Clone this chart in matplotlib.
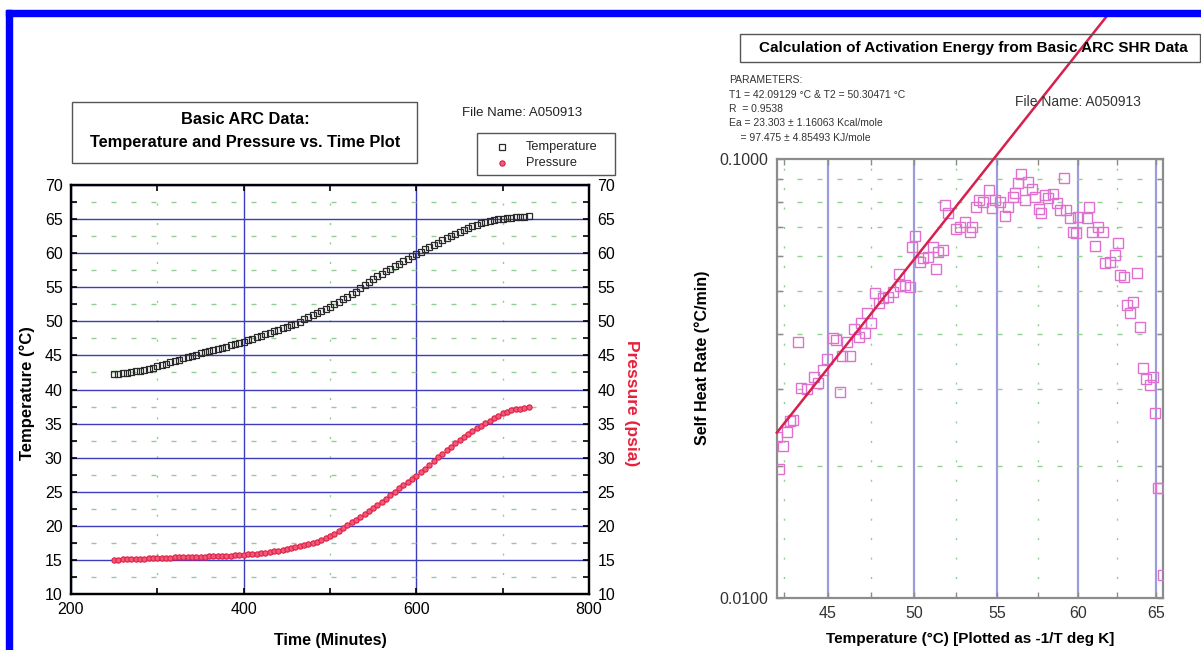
import numpy as np
import matplotlib
matplotlib.use("Agg")
import matplotlib.pyplot as plt
from matplotlib.patches import Rectangle
from matplotlib.lines import Line2D
from matplotlib.ticker import MultipleLocator, FixedLocator, FixedFormatter, LogLocator, NullFormatter

plt.rcParams['font.family'] = ['Liberation Sans', 'DejaVu Sans']

# ---------------- data: Basic ARC (left) ----------------
time_min = [250, 255, 260, 265, 270, 275, 280, 285, 290, 295,
            300, 305, 310, 315, 320, 325, 330, 335, 340, 345,
            350, 355, 360, 365, 370, 375, 380, 385, 390, 395,
            400, 405, 410, 415, 420, 425, 430, 435, 440, 445,
            450, 455, 460, 465, 470, 475, 480, 485, 490, 495,
            500, 505, 510, 515, 520, 525, 530, 535, 540, 545,
            550, 555, 560, 565, 570, 575, 580, 585, 590, 595,
            600, 605, 610, 615, 620, 625, 630, 635, 640, 645,
            650, 655, 660, 665, 670, 675, 680, 685, 690, 695,
            700, 705, 710, 715, 720, 725, 730]
temperature_c = [42.25, 42.32, 42.40, 42.47, 42.55, 42.65, 42.75, 42.90, 43.05, 43.22,
                 43.40, 43.60, 43.80, 44.00, 44.20, 44.38, 44.57, 44.76, 44.95, 45.12,
                 45.30, 45.47, 45.65, 45.81, 45.97, 46.13, 46.30, 46.49, 46.68, 46.84,
                 47.00, 47.22, 47.45, 47.67, 47.90, 48.12, 48.35, 48.55, 48.75, 48.97,
                 49.20, 49.42, 49.65, 49.97, 50.30, 50.60, 50.90, 51.20, 51.50, 51.82,
                 52.15, 52.50, 52.85, 53.22, 53.60, 53.97, 54.35, 54.82, 55.30, 55.75,
                 56.20, 56.60, 57.00, 57.38, 57.75, 58.10, 58.45, 58.82, 59.20, 59.55,
                 59.90, 60.22, 60.55, 60.88, 61.20, 61.55, 61.90, 62.22, 62.55, 62.85,
                 63.15, 63.42, 63.70, 63.95, 64.20, 64.38, 64.55, 64.70, 64.85, 64.95,
                 65.05, 65.12, 65.20, 65.25, 65.30, 65.35, 65.40]
pressure_psia = [15.05, 15.06, 15.08, 15.10, 15.12, 15.15, 15.17, 15.20, 15.22, 15.25,
                 15.27, 15.29, 15.31, 15.34, 15.36, 15.38, 15.40, 15.42, 15.44, 15.46,
                 15.48, 15.50, 15.52, 15.54, 15.56, 15.58, 15.60, 15.63, 15.66, 15.70,
                 15.75, 15.80, 15.87, 15.93, 16.00, 16.08, 16.17, 16.26, 16.36, 16.47,
                 16.58, 16.71, 16.85, 17.00, 17.15, 17.32, 17.50, 17.70, 17.95, 18.20,
                 18.45, 18.80, 19.20, 19.65, 20.10, 20.50, 20.90, 21.30, 21.70, 22.15,
                 22.60, 23.05, 23.50, 24.00, 24.50, 25.00, 25.50, 25.95, 26.40, 26.85,
                 27.30, 27.85, 28.40, 28.95, 29.50, 30.05, 30.60, 31.10, 31.60, 32.10,
                 32.60, 33.05, 33.50, 33.90, 34.30, 34.70, 35.10, 35.45, 35.80, 36.15,
                 36.50, 36.75, 36.95, 37.10, 37.20, 37.30, 37.40]

# ---------------- data: self heat rate (right) ----------------
shr_temp_c = [42.08, 42.65, 42.46, 42.23, 43.03, 42.84, 43.28, 43.46, 43.79, 44.20,
              44.45, 44.73, 44.96, 45.27, 45.46, 45.70, 45.80, 46.28, 46.09, 46.47,
              46.76, 46.90, 47.15, 47.25, 47.50, 47.69, 47.98, 48.21, 48.50, 48.79,
              49.14, 49.18, 49.47, 49.76, 49.87, 50.06, 50.36, 50.56, 50.86, 51.16,
              51.32, 51.46, 51.73, 51.87, 52.06, 52.53, 52.77, 53.07, 53.33, 53.47,
              53.73, 53.93, 54.17, 54.54, 54.68, 54.88, 55.19, 55.49, 55.70, 55.97,
              56.11, 56.31, 56.48, 56.73, 56.89, 57.14, 57.34, 57.61, 57.70, 57.96,
              58.17, 58.47, 58.73, 58.89, 59.14, 59.26, 59.51, 59.71, 59.92, 60.02,
              60.56, 60.72, 60.88, 61.09, 61.30, 61.58, 61.73, 62.05, 62.37, 62.58,
              62.69, 62.95, 63.12, 63.33, 63.54, 63.76, 63.97, 64.15, 64.36, 64.61,
              64.79, 64.94, 65.15, 65.32, 65.43]
shr_rate = [0.0233, 0.0239, 0.0222, 0.0197, 0.0255, 0.0253, 0.0382, 0.0301, 0.0299, 0.0319,
            0.0309, 0.0331, 0.0350, 0.0391, 0.0388, 0.0294, 0.0355, 0.0355, 0.0382, 0.0409,
            0.0394, 0.0422, 0.0402, 0.0447, 0.0424, 0.0494, 0.0469, 0.0482, 0.0486, 0.0499,
            0.0547, 0.0514, 0.0516, 0.0512, 0.0631, 0.0668, 0.0583, 0.0594, 0.0597, 0.0629,
            0.0561, 0.0615, 0.0621, 0.0786, 0.0752, 0.0692, 0.0701, 0.0720, 0.0683, 0.0701,
            0.0776, 0.0806, 0.0799, 0.0850, 0.0772, 0.0806, 0.0799, 0.0742, 0.0779, 0.0821,
            0.0835, 0.0881, 0.0924, 0.0806, 0.0885, 0.0853, 0.0821, 0.0768, 0.0755, 0.0828,
            0.0814, 0.0833, 0.0793, 0.0765, 0.0904, 0.0765, 0.0733, 0.0683, 0.0677, 0.0739,
            0.0733, 0.0776, 0.0683, 0.0634, 0.0701, 0.0683, 0.0579, 0.0583, 0.0604, 0.0645,
            0.0544, 0.0538, 0.0465, 0.0445, 0.0473, 0.0551, 0.0414, 0.0335, 0.0315, 0.0306,
            0.0319, 0.0264, 0.0178, 0.0178, 0.0113]

# Arrhenius fit (T1, T2 from the parameter box) and fitted rates at those temperatures
fit_temp_c = [42.09129, 50.30471]
fit_rate = [0.0238, 0.0610]

param_lines = ["PARAMETERS:",
               "T1 = 42.09129 \u00b0C & T2 = 50.30471 \u00b0C",
               "R  = 0.9538",
               "Ea = 23.303 \u00b1 1.16063 Kcal/mole",
               "    = 97.475 \u00b1 4.85493 KJ/mole"]

# ---------------- figure ----------------
W, H = 1201, 650
fig = plt.figure(figsize=(W / 100, H / 100), dpi=100)
fig.patch.set_facecolor('white')


def fx(x):
    return x / W


def fy(y):
    return 1 - y / H


GREEN = '#8fcf8f'
DASH = (0, (3.6, 10.8))
DOT = (0, (1.5, 12.5))

# ---------- left panel ----------
ax1 = fig.add_axes([fx(71), fy(594), (589 - 71) / W, (594 - 185) / H])
ax1.set_xlim(200, 800)
ax1.set_ylim(10, 70)
ax1.xaxis.set_major_locator(MultipleLocator(200))
ax1.xaxis.set_minor_locator(MultipleLocator(100))
ax1.yaxis.set_major_locator(MultipleLocator(5))
ax1.yaxis.set_minor_locator(MultipleLocator(2.5))
ax1.grid(which='major', color='#3c3cbc', lw=1.0)
ax1.grid(which='minor', axis='y', color=GREEN, lw=1.0, linestyle=DASH)
ax1.grid(which='minor', axis='x', color=GREEN, lw=1.0, linestyle=DOT)
ax1.set_axisbelow(True)
for s in ax1.spines.values():
    s.set_linewidth(1.6)
    s.set_color('black')
ax1.tick_params(which='both', direction='in', top=True, length=4, width=1.2,
                labelsize=11.5, pad=6)

ax1.plot(time_min, temperature_c, ls='none', marker='s', ms=4.0, mfc='none',
         mec='#2a2a2a', mew=0.9, zorder=4)

ax2 = ax1.twinx()
ax2.set_ylim(10, 70)
ax2.yaxis.set_major_locator(MultipleLocator(5))
ax2.yaxis.set_minor_locator(MultipleLocator(2.5))
ax2.tick_params(which='both', direction='in', length=4, width=1.2,
                labelsize=11.5, pad=6)
for s in ax2.spines.values():
    s.set_linewidth(1.6)
ax2.plot(time_min, pressure_psia, ls='none', marker='o', ms=3.8, mfc='#f05a78',
         mec='#e01e46', mew=0.8, zorder=4)

ax1.set_xlabel('Time (Minutes)', fontweight='bold', fontsize=11.5, va='center')
ax1.xaxis.set_label_coords(0.5, (594 - 640) / 409)
ax1.set_ylabel('Temperature (\u00b0C)', fontweight='bold', fontsize=12, va='center')
ax1.yaxis.set_label_coords((27 - 71) / 518, (594 - 393) / 409)
ax2.set_ylabel('Pressure (psia)', fontweight='bold', fontsize=12.5, color='#e8203c',
               rotation=270, va='center')
ax2.yaxis.set_label_coords((632 - 71) / 518, (594 - 403) / 409)

# left title box
fig.add_artist(Rectangle((fx(72), fy(163)), (417 - 72) / W, (163 - 102) / H,
                         transform=fig.transFigure, fill=False, ec='#555555', lw=1.0))
fig.text(fx(245), fy(120), 'Basic ARC Data:', ha='center', va='center',
         fontsize=11.8, fontweight='bold')
fig.text(fx(245), fy(143), 'Temperature and Pressure vs. Time Plot', ha='center',
         va='center', fontsize=11.8, fontweight='bold')
fig.text(fx(462), fy(113), 'File Name: A050913', ha='left', va='center',
         fontsize=9.5, color='#222222')

# left legend
fig.add_artist(Rectangle((fx(477), fy(175)), (615 - 477) / W, (175 - 133) / H,
                         transform=fig.transFigure, fill=False, ec='#555555', lw=1.0))
fig.add_artist(Line2D([fx(502)], [fy(147)], transform=fig.transFigure, ls='none',
                      marker='s', ms=4.0, mfc='none', mec='#2a2a2a', mew=0.9))
fig.add_artist(Line2D([fx(502)], [fy(163)], transform=fig.transFigure, ls='none',
                      marker='o', ms=3.8, mfc='#f05a78', mec='#e01e46', mew=0.8))
fig.text(fx(526), fy(147), 'Temperature', ha='left', va='center', fontsize=9.2,
         color='#222222')
fig.text(fx(526), fy(163), 'Pressure', ha='left', va='center', fontsize=9.2,
         color='#222222')

# ---------- right panel ----------
def fwd(t):
    t = np.asarray(t, dtype=float)
    with np.errstate(divide='ignore', invalid='ignore'):
        return -1.0 / (t + 273.15)


def inv(u):
    u = np.asarray(u, dtype=float)
    with np.errstate(divide='ignore', invalid='ignore'):
        return -1.0 / u - 273.15


ax3 = fig.add_axes([fx(777), fy(598), (1163 - 777) / W, (598 - 159) / H])
ax3.set_xscale('function', functions=(fwd, inv))
ax3.set_yscale('log')
ax3.set_xlim(42.1, 65.45)
ax3.set_ylim(0.01, 0.1)
ax3.xaxis.set_major_locator(FixedLocator([45, 50, 55, 60, 65]))
ax3.xaxis.set_major_formatter(FixedFormatter(['45', '50', '55', '60', '65']))
ax3.xaxis.set_minor_locator(FixedLocator([42.5, 47.5, 52.5, 57.5, 62.5]))
ax3.xaxis.set_minor_formatter(NullFormatter())
ax3.yaxis.set_major_locator(FixedLocator([0.01, 0.1]))
ax3.yaxis.set_major_formatter(FixedFormatter(['0.0100', '0.1000']))
ax3.yaxis.set_minor_locator(LogLocator(base=10, subs=np.arange(2, 10)))
ax3.yaxis.set_minor_formatter(NullFormatter())
ax3.grid(which='major', axis='x', color='#9c9cdc', lw=1.6)
ax3.grid(which='minor', axis='y', color=GREEN, lw=1.0, linestyle=DASH)
ax3.grid(which='minor', axis='x', color=GREEN, lw=1.0, linestyle=DOT)
ax3.set_axisbelow(True)
for s in ax3.spines.values():
    s.set_linewidth(1.6)
    s.set_color('#8c8c8c')
ax3.tick_params(which='both', direction='in', top=True, right=True, length=4,
                width=1.0, color='#8c8c8c', labelsize=11.5, labelcolor='#333333', pad=6)

ax3.plot(shr_temp_c, shr_rate, ls='none', marker='s', ms=6.5, mfc='none',
         mec='#e070d0', mew=1.0, zorder=4)

# fitted Arrhenius line: straight in (-1/T, log rate) space, extended past the axes
u0, u1 = fwd(fit_temp_c[0]), fwd(fit_temp_c[1])
v0, v1 = np.log10(fit_rate[0]), np.log10(fit_rate[1])
t_line = np.linspace(fit_temp_c[0], 61.8, 60)
v_line = v0 + (v1 - v0) / (u1 - u0) * (fwd(t_line) - u0)
ax3.plot(t_line, 10 ** v_line, color='#d8204e', lw=1.8, clip_on=False, zorder=6)

ax3.set_xlabel('Temperature (\u00b0C) [Plotted as -1/T deg K]', fontweight='bold',
               fontsize=11, va='center')
ax3.xaxis.set_label_coords(0.5, (598 - 639) / 439)
ax3.set_ylabel('Self Heat Rate (\u00b0C/min)', fontweight='bold', fontsize=11.5,
               va='center')
ax3.yaxis.set_label_coords((702 - 777) / 386, (598 - 358) / 439)

# right title box
fig.add_artist(Rectangle((fx(740), fy(62)), (1200 - 740) / W, (62 - 34) / H,
                         transform=fig.transFigure, fill=False, ec='#555555', lw=1.0))
fig.text(fx(973), fy(48), 'Calculation of Activation Energy from Basic ARC SHR Data',
         ha='center', va='center', fontsize=11, fontweight='bold')

for i, line in enumerate(param_lines):
    fig.text(fx(729), fy(80 + 14.5 * i), line, ha='left', va='center',
             fontsize=7.5, color='#333333')

fig.text(fx(1015), fy(102), 'File Name: A050913', ha='left', va='center',
         fontsize=10, color='#333333')

# blue frame (top and left edges)
fig.add_artist(Rectangle((fx(6), fy(16)), 1.0, 6 / H, transform=fig.transFigure,
                         color='#0000ff', zorder=20))
fig.add_artist(Rectangle((fx(6), 0), 6 / W, fy(10), transform=fig.transFigure,
                         color='#0000ff', zorder=20))

fig.savefig('out.png', dpi=100)
